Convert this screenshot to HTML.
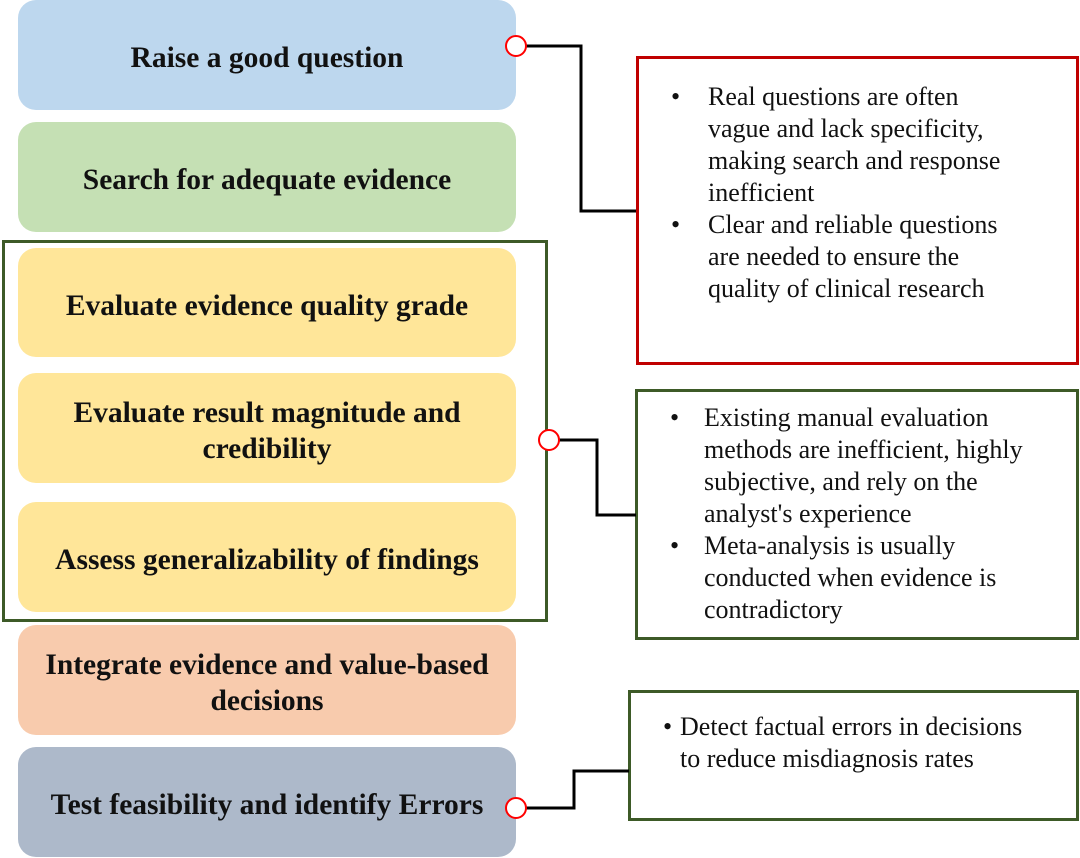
<!DOCTYPE html>
<html><head><style>
body{margin:0;width:1080px;height:858px;background:#fff;position:relative;overflow:hidden;font-family:"Liberation Serif",serif}
.b{position:absolute;left:18px;width:498px;height:110px;box-sizing:border-box;padding-top:6px;border-radius:18px;display:flex;align-items:center;justify-content:center;text-align:center;font-weight:bold;font-size:29.5px;line-height:36px;color:#111}
.t{position:absolute;background:#fff;box-sizing:border-box;font-size:26px;line-height:32px;color:#111}
.t ul{margin:0;padding:0;list-style:none}
.t li{position:relative;padding-left:69px}
.t li:before{content:"•";position:absolute;left:32px}
</style></head><body>
<div class="b" style="top:0;background:#bdd7ee">Raise a good question</div>
<div class="b" style="top:122px;background:#c5e0b4">Search for adequate evidence</div>
<div class="b" style="top:248px;height:109px;background:#ffe699">Evaluate evidence quality grade</div>
<div class="b" style="top:373px;background:#ffe699">Evaluate result magnitude and<br>credibility</div>
<div class="b" style="top:502px;background:#ffe699">Assess generalizability of findings</div>
<div class="b" style="top:625px;background:#f8cbad">Integrate evidence and value-based<br>decisions</div>
<div class="b" style="top:747px;background:#adb9ca">Test feasibility and identify Errors</div>
<div style="position:absolute;left:2px;top:240px;width:540px;height:376px;border:3px solid #3d5a27"></div>
<div class="t" style="left:636px;top:56px;width:443px;height:309px;border:3px solid #c00000;padding-top:22px;padding-right:62px"><ul><li>Real questions are often vague and lack specificity, making search and response inefficient</li><li>Clear and reliable questions are needed to ensure the quality of clinical research</li></ul></div>
<div class="t" style="left:635px;top:389px;width:444px;height:251px;border:3px solid #3d5a27;padding-top:10px;padding-right:36px"><ul><li style="padding-left:66px">Existing manual evaluation methods are inefficient, highly subjective, and rely on the analyst's experience</li><li style="padding-left:66px">Meta-analysis is usually conducted when evidence is contradictory</li></ul></div>
<div class="t" style="left:628px;top:690px;width:451px;height:131px;border:3px solid #3d5a27;padding-top:18px;padding-right:30px"><ul><li style="padding-left:49px">Detect factual errors in decisions to reduce misdiagnosis rates</li></ul></div>
<svg width="1080" height="858" style="position:absolute;left:0;top:0">
<g fill="none" stroke="#000" stroke-width="3">
<polyline points="526,46 581,46 581,211 636,211"/>
<polyline points="559,440 597,440 597,515 636,515"/>
<polyline points="526,808 574,808 574,771 629,771"/>
</g>
<g fill="#fff" stroke="#f00" stroke-width="2">
<circle cx="516" cy="46" r="10"/>
<circle cx="549" cy="440" r="10"/>
<circle cx="516" cy="808" r="10"/>
</g>
</svg>
</body></html>
